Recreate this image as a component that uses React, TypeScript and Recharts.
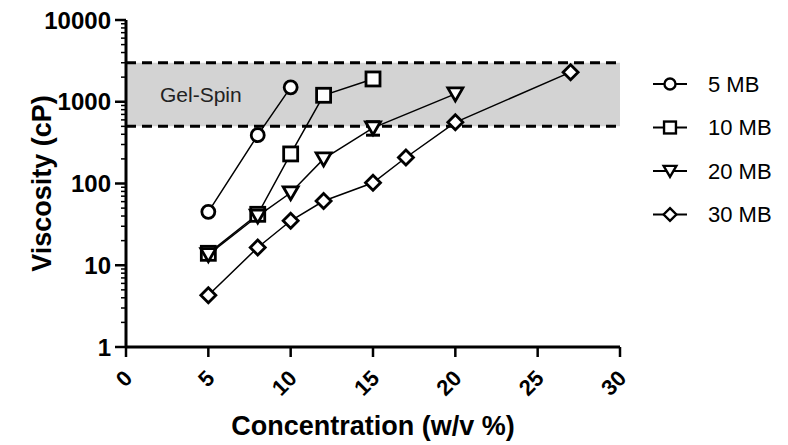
import React from 'react';
import {
  ComposedChart, Line, XAxis, YAxis, ReferenceArea, ReferenceLine, Label, Legend, ErrorBar,
} from 'recharts';

const FONT = '"Liberation Sans", Arial, sans-serif';

// concentration (w/v %) and viscosity (cP) per molecular weight
const conc5 = [5, 8, 10];
const visc5 = [45, 390, 1500];
const conc10 = [5, 8, 10, 12, 15];
const visc10 = [14, 42, 230, 1200, 1900];
const conc20 = [5, 8, 10, 12, 15, 20];
const visc20 = [13.5, 40, 77, 200, 480, 1250];
const err20 = [null, null, null, null, 90, null];
const conc30 = [5, 8, 10, 12, 15, 17, 20, 27];
const visc30 = [4.3, 16.5, 35, 61, 102, 208, 560, 2300];

const xTicks = [0, 5, 10, 15, 20, 25, 30];
const yMajor = [1, 10, 100, 1000, 10000];
const gelLow = 500;
const gelHigh = 3000;

const yMinor = yMajor.slice(0, -1).flatMap((d) => [2, 3, 4, 5, 6, 7, 8, 9].map((m) => m * d));
const yTicks = [...yMajor, ...yMinor].sort((a, b) => a - b);

const build = (xs: number[], ys: number[], es?: (number | null)[]) =>
  xs.map((x, i) => ({ x, y: ys[i], err: es ? es[i] : null }));

const series = [
  { name: '5 MB', kind: 'circle', data: build(conc5, visc5) },
  { name: '10 MB', kind: 'square', data: build(conc10, visc10) },
  { name: '20 MB', kind: 'triangle', data: build(conc20, visc20, err20) },
  { name: '30 MB', kind: 'diamond', data: build(conc30, visc30) },
];

const Marker = ({ kind, cx, cy, s = 1 }: { kind: string; cx: number; cy: number; s?: number }) => {
  const p = { fill: '#fff', stroke: '#000', strokeWidth: 2.8 * s };
  if (kind === 'circle') return <circle cx={cx} cy={cy} r={6.5 * s} {...p} />;
  if (kind === 'square') return <rect x={cx - 7 * s} y={cy - 7 * s} width={14 * s} height={14 * s} {...p} />;
  if (kind === 'triangle')
    return <path d={`M${cx - 7.5 * s},${cy - 6 * s}L${cx + 7.5 * s},${cy - 6 * s}L${cx},${cy + 7 * s}Z`} {...p} strokeLinejoin="miter" />;
  return <path d={`M${cx},${cy - 7.5 * s}L${cx + 7.5 * s},${cy}L${cx},${cy + 7.5 * s}L${cx - 7.5 * s},${cy}Z`} {...p} />;
};

const YTick = (props: any) => {
  const { x, y, payload } = props;
  const major = yMajor.includes(payload.value);
  return (
    <g>
      <line x1={major ? x - 11 : x - 5} x2={x} y1={y} y2={y} stroke="#000" strokeWidth={major ? 2.5 : 1.5} />
      {major && (
        <text x={x - 15} y={y} dy="0.36em" textAnchor="end" fontFamily={FONT} fontWeight="bold" fontSize={24} fill="#000">
          {payload.value}
        </text>
      )}
    </g>
  );
};

const XTick = (props: any) => {
  const { x, y, payload } = props;
  const tx = x + 2;
  const ty = y + 27;
  return (
    <g>
      <line x1={x} x2={x} y1={y} y2={y + 10} stroke="#000" strokeWidth={2.5} />
      <text x={tx} y={ty} dy="0.36em" textAnchor="end" transform={`rotate(-45, ${tx}, ${ty})`}
        fontFamily={FONT} fontWeight="bold" fontSize={22} fill="#000">
        {payload.value}
      </text>
    </g>
  );
};

const LegendBox = () => (
  <svg width={150} height={180}>
    {series.map((s, i) => {
      const cy = 22 + i * 43.5;
      return (
        <g key={s.name}>
          <line x1={13} x2={47} y1={cy} y2={cy} stroke="#000" strokeWidth={2} />
          <Marker kind={s.kind} cx={30} cy={cy} s={0.85} />
          <text x={68} y={cy} dy="0.36em" fontFamily={FONT} fontSize={22} fill="#000">{s.name}</text>
        </g>
      );
    })}
  </svg>
);

export default function App() {
  return (
    <div style={{ width: 788, height: 445, background: '#fff' }}>
      <style>{'body{margin:0}'}</style>
      <ComposedChart width={788} height={445} margin={{ top: 20, right: 168, bottom: 0, left: 0 }}>
        <XAxis type="number" dataKey="x" domain={[0, 30]} ticks={xTicks} height={98}
          axisLine={{ stroke: '#000', strokeWidth: 3 }} tickLine={false} tickSize={0} tickMargin={0}
          tick={<XTick />} interval={0} allowDataOverflow>
          <Label position="insideBottom" offset={10} value="Concentration (w/v %)"
            style={{ fontFamily: FONT, fontWeight: 'bold', fontSize: 27, fill: '#000' }} />
        </XAxis>
        <YAxis type="number" scale="log" domain={[1, 10000]} ticks={yTicks} width={126}
          axisLine={{ stroke: '#000', strokeWidth: 3 }} tickLine={false} tickSize={0} tickMargin={0}
          tick={<YTick />} interval={0} allowDataOverflow>
          <Label content={(p: any) => {
            const vb = p.viewBox;
            const cx = 41;
            const cy = vb.y + vb.height / 2;
            return (
              <text x={cx} y={cy} dy="0.36em" textAnchor="middle" transform={`rotate(-90, ${cx}, ${cy})`}
                fontFamily={FONT} fontWeight="bold" fontSize={27} fill="#000">Viscosity (cP)</text>
            );
          }} />
        </YAxis>
        <ReferenceArea x1={0} x2={30} y1={gelLow} y2={gelHigh} fill="#d3d3d3" fillOpacity={1} stroke="none">
          <Label position="insideLeft" offset={34} value="Gel-Spin"
            style={{ fontFamily: FONT, fontSize: 21, fill: '#222' }} />
        </ReferenceArea>
        <ReferenceLine y={gelLow} stroke="#000" strokeWidth={3} strokeDasharray="10 6" />
        <ReferenceLine y={gelHigh} stroke="#000" strokeWidth={3} strokeDasharray="10 6" />
        {series.map((s) => (
          <Line key={s.name} data={s.data} dataKey="y" name={s.name} stroke="#000" strokeWidth={1.5}
            isAnimationActive={false} legendType="none"
            dot={(p: any) => <Marker key={`${s.name}-${p.index}`} kind={s.kind} cx={p.cx} cy={p.cy} />}>
            {s.kind === 'triangle' && <ErrorBar dataKey="err" width={7} stroke="#000" strokeWidth={3} direction="y" />}
          </Line>
        ))}
        <Legend layout="vertical" align="center" verticalAlign="middle" content={<LegendBox />}
          wrapperStyle={{ left: 640, top: 62, width: 150, height: 180 }} />
      </ComposedChart>
    </div>
  );
}
